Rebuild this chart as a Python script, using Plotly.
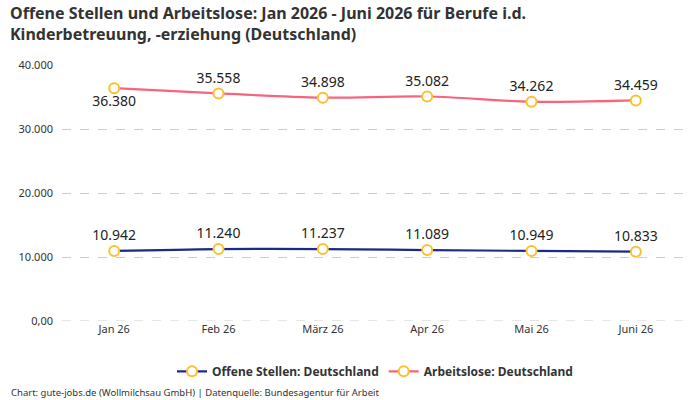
import plotly.graph_objects as go

months = ["Jan 26", "Feb 26", "März 26", "Apr 26", "Mai 26", "Juni 26"]
offene = [10942, 11240, 11237, 11089, 10949, 10833]
arbeitslose = [36380, 35558, 34898, 35082, 34262, 34459]
y_ticks = [0, 10000, 20000, 30000, 40000]
y_tick_labels = ["0,00", "10.000", "20.000", "30.000", "40.000"]
title_text = ("Offene Stellen und Arbeitslose: Jan 2026 - Juni 2026 für Berufe i.d.<br>"
              "Kinderbetreuung, -erziehung (Deutschland)")

def fmt(v):
    return f"{v:,}".replace(",", ".")

FONT = "Noto Sans, Roboto, sans-serif"
TXT = "#222222"

fig = go.Figure()
fig.add_trace(go.Scatter(
    x=months, y=offene, name="<b>Offene Stellen: Deutschland</b>",
    mode="lines+markers+text", line=dict(color="#1b2a85", width=2.2, shape="spline"),
    marker=dict(size=10, color="white", line=dict(color="#fbc02d", width=2)),
    text=[fmt(v) for v in offene], textposition="top center",
    textfont=dict(size=14, color=TXT, family=FONT),
))
fig.add_trace(go.Scatter(
    x=months, y=arbeitslose, name="<b>Arbeitslose: Deutschland</b>",
    mode="lines+markers+text", line=dict(color="#f7647e", width=2.2, shape="spline"),
    marker=dict(size=10, color="white", line=dict(color="#fbc02d", width=2)),
    text=[fmt(v) for v in arbeitslose],
    textposition=["bottom center"] + ["top center"] * 5,
    textfont=dict(size=14, color=TXT, family=FONT),
))

fig.update_layout(
    width=700, height=400,
    margin=dict(l=62, r=12, t=65, b=79),
    paper_bgcolor="white", plot_bgcolor="white",
    font=dict(family=FONT, color=TXT),
    showlegend=True,
    legend=dict(orientation="h", x=0.5, xanchor="center", y=-0.14, yanchor="top",
                font=dict(size=12, color="#333333", family=FONT)),
    annotations=[
        dict(
            text=f"<b>{title_text}</b>",
            xref="paper", yref="paper", x=-0.086, y=1 + 65 / 256, xanchor="left", yanchor="top",
            align="left", showarrow=False, font=dict(size=16, color="#333333", family=FONT),
        ),
        dict(
            text="Chart: gute-jobs.de (Wollmilchsau GmbH) | Datenquelle: Bundesagentur für Arbeit",
            xref="paper", yref="paper", x=-0.084, y=-0.245, xanchor="left", yanchor="top",
            showarrow=False, font=dict(size=9.5, color="#333333", family=FONT),
        ),
    ],
)
fig.update_xaxes(range=[-0.5, 5.5], showgrid=False, showline=False, ticks="",
                 tickfont=dict(size=11, color="#333333"))
fig.update_yaxes(range=[0, 40000], tickvals=y_ticks, ticktext=y_tick_labels,
                 showgrid=True, gridcolor="#cccccc", griddash="dash", gridwidth=1,
                 zeroline=False, showline=False, ticks="", ticklabelstandoff=8,
                 tickfont=dict(size=11, color="#333333"))
fig.add_hline(y=0, line=dict(color="#cccccc", width=1, dash="dash"), layer="below")

fig.write_html("out.html")
